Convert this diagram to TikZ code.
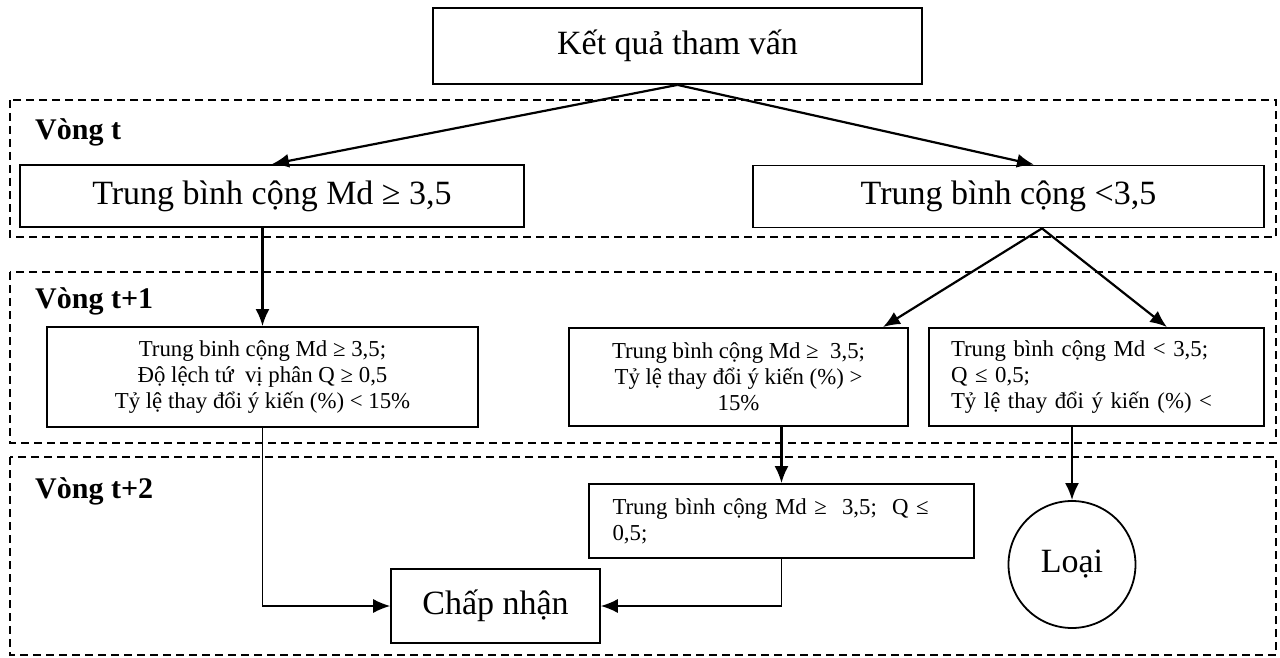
\documentclass[tikz,border=0pt]{standalone}
\usepackage{fontspec}
\setmainfont{Liberation Serif}
\usetikzlibrary{arrows.meta}
\begin{document}
\begin{tikzpicture}[x=1pt,y=-1pt,
  box/.style={draw, line width=1.8pt, inner sep=0pt, anchor=center},
  big/.style={font=\fontsize{34}{38}\selectfont},
  small/.style={font=\fontsize{22.8}{26}\selectfont},
  arr/.style={line width=2.2pt, -{Latex[length=17pt,width=14pt]}},
  thinarr/.style={line width=1.3pt, -{Latex[length=17pt,width=14pt]}},
  zone/.style={dash pattern=on 8pt off 5pt, line width=1.7pt},
  lab/.style={font=\bfseries\fontsize{30}{34}\selectfont, anchor=base west, inner sep=0pt}]
\useasboundingbox (0,0) rectangle (1280,658);
% zones
\draw[zone] (10,100) rectangle (1276,237);
\draw[zone] (10,272) rectangle (1276,443);
\draw[zone] (10,457) rectangle (1276,655);
\node[lab] (l1) at (35,140) {Vòng t};
\node[lab] (l2) at (35,308) {Vòng t+1};
\node[lab] (l3) at (35,498) {Vòng t+2};
% nodes
\node[box,big,minimum width=489pt,minimum height=76pt,fill=white] (top) at (677.5,46) {Kết quả tham vấn};
\node[box,big,minimum width=504pt,minimum height=62pt] (A) at (272,196) {Trung bình cộng Md ≥ 3,5};
\node[box,big,minimum width=511pt,minimum height=62pt] (B) at (1008.5,196.5) {Trung bình cộng <3,5};
\node[box,small,minimum width=431pt,minimum height=100pt,align=center] (C) at (262.5,377)
  {Trung binh cộng Md ≥ 3,5;\\Độ lệch tứ\ \ vị phân Q ≥ 0,5\\Tỷ lệ thay đổi ý kiến (\%) < 15\%};
\node[box,small,minimum width=339pt,minimum height=98pt,align=center] (D) at (738.5,377)
  {Trung bình cộng Md ≥\ \ 3,5;\\Tỷ lệ thay đổi ý kiến (\%) >\\15\%};
\node[box,small,minimum width=335pt,minimum height=98pt,text width=291pt,align=left] (E) at (1096.5,377)
  {Trung bình cộng Md < 3,5;\\Q ≤ 0,5;\\\makebox[291pt][s]{Tỷ lệ thay đổi ý kiến (\%) <}};
\node[box,small,minimum width=385pt,minimum height=74pt,text width=338pt,align=left] (F) at (781.5,521)
  {\makebox[338pt][s]{Trung bình cộng Md ≥\ \ 3,5;\ \ Q ≤}\\0,5;};
\node[box,big,minimum width=209pt,minimum height=74pt] (G) at (495.5,606) {Chấp nhận};
\node[box,big,circle,minimum size=127pt] (L) at (1072,564.5) {Loại};
% connectors
\draw[arr] (top.south) -- (A.north);
\draw[arr] (top.south) -- ([xshift=25.5pt]B.north);
\draw[arr] (C.north |- A.south) -- (C.north);
\draw[arr] ([xshift=33.5pt]B.south) -- ([xshift=144.5pt]D.north);
\draw[arr] ([xshift=33.5pt]B.south) -- ([xshift=70.5pt]E.north);
\draw[arr] (F.north |- D.south) -- (F.north);
\draw[arr] (L.north |- E.south) -- (L.north);
\draw[thinarr] (C.south) |- (G.west);
\draw[thinarr] (F.south) |- (G.east);
\end{tikzpicture}
\end{document}
